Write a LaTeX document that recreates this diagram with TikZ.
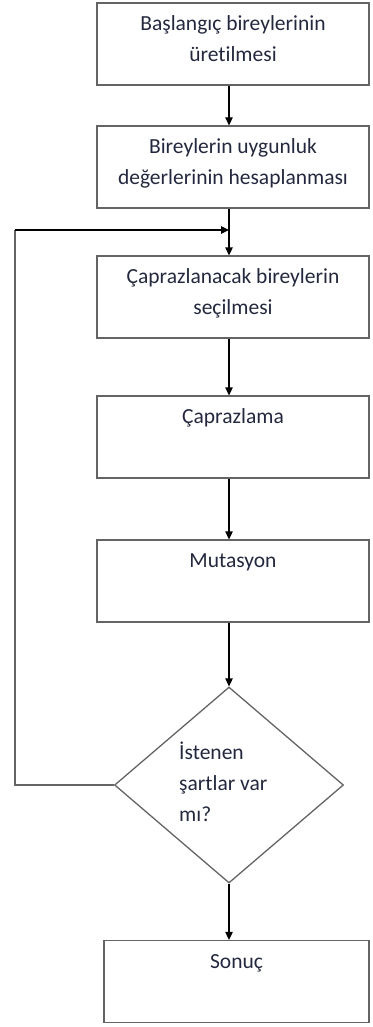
\documentclass[tikz,border=0pt]{standalone}
\usepackage{fontspec}
\setmainfont[Ligatures=NoCommon]{Carlito}
\usetikzlibrary{shapes.geometric,arrows.meta}
\definecolor{boxgray}{RGB}{100,100,100}
\definecolor{txt}{RGB}{35,40,62}
\begin{document}
\begin{tikzpicture}[x=1pt,y=-1pt,
  box/.style={draw=boxgray, line width=1.3pt, rectangle, minimum width=272pt,
    minimum height=82pt, align=center, inner sep=0pt,
    font=\fontsize{21.5}{31}\selectfont, text=txt,
    text height=52.7pt, text depth=17.3pt},
  dec/.style={draw=boxgray, line width=1.3pt, diamond, minimum width=229pt,
    minimum height=196pt, inner sep=0pt},
  dtext/.style={align=left, inner sep=0pt, anchor=west,
    font=\fontsize{21.5}{31}\selectfont, text=txt},
  conn/.style={draw=black, line width=1.3pt, -{Triangle[length=8pt,width=7.5pt]}},
  line/.style={draw=black!85, line width=1.3pt}]
\useasboundingbox (0,0) rectangle (372,1027);

\node[box] (b1) at (233,44) {\strut Başlangıç bireylerinin\\\strut üretilmesi};
\node[box] (b2) at (233,167) {\strut Bireylerin uygunluk\\\strut değerlerinin hesaplanması};
\node[box] (b3) at (233,297) {\strut Çaprazlanacak bireylerin\\\strut seçilmesi};
\node[box] (b4) at (233,437) {\strut Çaprazlama\\\strut};
\node[box] (b5) at (233,581) {\strut Mutasyon\\\strut};
\node[dec] (d) at (229,785) {};
\node[dtext] (dt) at (179,784) {\strut İstenen\\\strut şartlar var\\\strut mı?};
\node[box, minimum width=265pt] (b6) at (236.5,981.5) {\strut Sonuç\\\strut};

\coordinate (ax) at (229,0);
\coordinate (lp) at (15,230);
\coordinate (jn) at (229,230);

\draw[conn] (b1.south -| ax) -- (b2.north -| ax);
\draw[conn] (b2.south -| ax) -- (b3.north -| ax);
\draw[conn] (b3.south -| ax) -- (b4.north -| ax);
\draw[conn] (b4.south -| ax) -- (b5.north -| ax);
\draw[conn] (b5.south -| ax) -- (d.north);
\draw[conn] (d.south) -- (b6.north -| ax);
\draw[line, boxgray] (d.west) -| (lp);
\draw[conn] (lp) -- (jn);
\end{tikzpicture}
\end{document}
